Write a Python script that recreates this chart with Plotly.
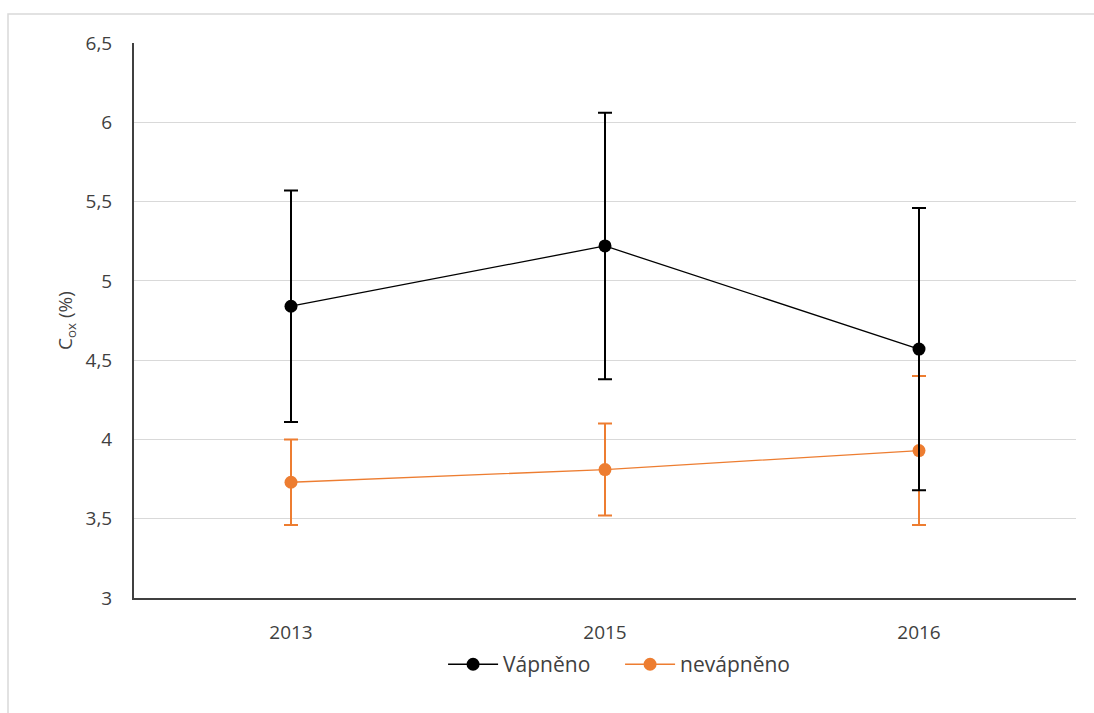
import plotly.graph_objects as go

years = ["2013", "2015", "2016"]

vapneno = [4.84, 5.22, 4.57]
vapneno_err = [0.73, 0.84, 0.89]

nevapneno = [3.73, 3.81, 3.93]
nevapneno_err = [0.27, 0.29, 0.47]

y_ticks = [3, 3.5, 4, 4.5, 5, 5.5, 6, 6.5]

BLACK = "#000000"
ORANGE = "#ED7D31"
TEXT = "#404040"

fig = go.Figure()

# orange series first so the black one is drawn on top
fig.add_trace(go.Scatter(
    x=years, y=nevapneno, name="nevápněno", mode="lines+markers",
    line=dict(color=ORANGE, width=1.3),
    marker=dict(color=ORANGE, size=13),
    error_y=dict(type="data", array=nevapneno_err, visible=True,
                 color=ORANGE, thickness=2, width=7),
))

fig.add_trace(go.Scatter(
    x=years, y=vapneno, name="Vápněno", mode="lines+markers",
    line=dict(color=BLACK, width=1.3),
    marker=dict(color=BLACK, size=13),
    error_y=dict(type="data", array=vapneno_err, visible=True,
                 color=BLACK, thickness=2, width=7),
))

fig.update_layout(
    width=1094, height=713,
    margin=dict(l=134, r=18, t=43, b=115),
    paper_bgcolor="white", plot_bgcolor="white",
    separators=", ",
    font=dict(family="Open Sans, DejaVu Sans, sans-serif", size=19, color=TEXT),
    showlegend=True,
    legend=dict(orientation="h", x=0.516, xanchor="center", y=-0.12, yanchor="middle",
                font=dict(size=21, color=TEXT), traceorder="reversed",
                itemwidth=50, entrywidth=112),
    shapes=[dict(type="rect", xref="paper", yref="paper",
                 x0=-126 / 942, y0=-130 / 555, x1=1.1, y1=(555 + 29) / 555,
                 line=dict(color="#D9D9D9", width=1.5), layer="below")],
)

fig.update_xaxes(
    type="category", range=[-0.5, 2.5], showgrid=False, showline=True,
    linecolor=TEXT, linewidth=2, ticks="", ticklabelstandoff=16,
    tickfont=dict(size=19, color=TEXT),
)

fig.update_yaxes(
    range=[3, 6.5], tickvals=y_ticks, showgrid=True, gridcolor="#D9D9D9",
    gridwidth=1, showline=True, linecolor=TEXT, linewidth=2,
    ticks="", ticklabelstandoff=16, zeroline=False,
    tickfont=dict(size=19, color=TEXT),
    title=dict(text="C<sub>ox</sub> (%)", font=dict(size=19, color=TEXT), standoff=8),
)

fig.write_html("out.html")
